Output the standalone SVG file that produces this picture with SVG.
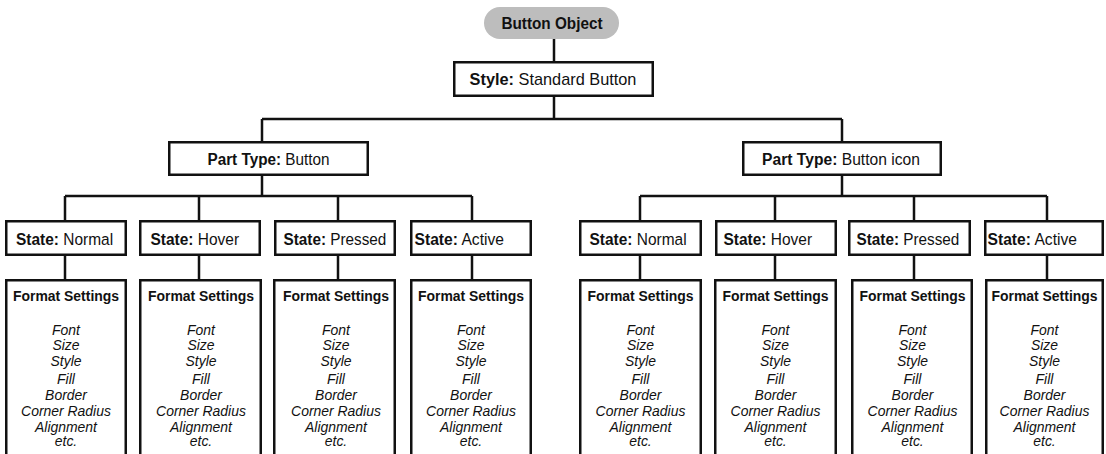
<svg xmlns="http://www.w3.org/2000/svg" width="1106" height="454" viewBox="0 0 1106 454">
<style>
  .box { fill: #ffffff; stroke: #111111; stroke-width: 2.5; }
  .pill { fill: #bdbdbd; stroke: none; }
  .conn { fill: none; stroke: #111111; stroke-width: 2.5; stroke-linecap: butt; stroke-linejoin: miter; }
  text { font-family: "Liberation Sans", Arial, sans-serif; fill: #111111; }
  .lbl { font-size: 17px; }
  .b { font-weight: bold; }
  .mid { text-anchor: middle; }
  .fs { font-size: 15.5px; font-weight: bold; text-anchor: middle; }
  .it { font-size: 15.5px; font-style: italic; text-anchor: middle; }
</style>
<defs>
  <g id="fmt">
    <text class="fs" x="0" y="301">Format Settings</text>
    <text class="it" x="0" y="335">Font</text>
    <text class="it" x="0" y="350.5">Size</text>
    <text class="it" x="0" y="366">Style</text>
    <text class="it" x="0" y="384">Fill</text>
    <text class="it" x="0" y="400">Border</text>
    <text class="it" x="0" y="416">Corner Radius</text>
    <text class="it" x="0" y="432">Alignment</text>
    <text class="it" x="0" y="446">etc.</text>
  </g>
</defs>
<rect x="0" y="0" width="1106" height="454" fill="#ffffff"/>
<g id="connectors">
  <path class="conn" d="M554 39 V61 M554 97 V119 M262 119 H842 M262 119 V141 M842 119 V141"/>
  <path class="conn" d="M262 176 V196 M65 196 H472 M65 196 V220 M199 196 V220 M338 196 V220 M472 196 V220"/>
  <path class="conn" d="M842 176 V196 M640 196 H1047 M640 196 V220 M775 196 V220 M914 196 V220 M1047 196 V220"/>
  <path class="conn" d="M65 256 V279 M199 256 V279 M338 256 V279 M472 256 V279 M640 256 V279 M775 256 V279 M914 256 V279 M1047 256 V279"/>
</g>
<g id="button-object">
  <rect class="pill" x="484" y="7" width="135" height="32" rx="16" ry="16"/>
  <text class="lbl b mid" transform="translate(552 28.5) scale(0.9 1)">Button Object</text>
</g>
<g id="style-standard-button">
  <rect class="box" x="454.25" y="62.25" width="198.5" height="33.5"/>
  <text class="lbl mid" transform="translate(553 84.5) scale(0.96 1)"><tspan class="b">Style:</tspan> Standard Button</text>
</g>
<g id="part-type-button">
  <rect class="box" x="169.25" y="142.25" width="198.5" height="32.5"/>
  <text class="lbl mid" transform="translate(268.5 164.5) scale(0.9 1)"><tspan class="b">Part Type:</tspan> Button</text>
</g>
<g id="part-type-button-icon">
  <rect class="box" x="743.25" y="142.25" width="197.5" height="32.5"/>
  <text class="lbl mid" transform="translate(841 164.5) scale(0.92 1)"><tspan class="b">Part Type:</tspan> Button icon</text>
</g>
<g id="state-normal-1">
  <rect class="box" x="6.25" y="221.25" width="119.5" height="33.5"/>
  <text class="lbl" transform="translate(16 244.5) scale(0.91 1)"><tspan class="b">State:</tspan> Normal</text>
</g>
<g id="state-hover-1">
  <rect class="box" x="140.25" y="221.25" width="119.5" height="33.5"/>
  <text class="lbl" transform="translate(150.5 244.5) scale(0.91 1)"><tspan class="b">State:</tspan> Hover</text>
</g>
<g id="state-pressed-1">
  <rect class="box" x="275.25" y="221.25" width="119.5" height="33.5"/>
  <text class="lbl" transform="translate(283.5 244.5) scale(0.9 1)"><tspan class="b">State:</tspan> Pressed</text>
</g>
<g id="state-active-1">
  <rect class="box" x="411.25" y="221.25" width="119.5" height="33.5"/>
  <text class="lbl" transform="translate(414.5 244.5) scale(0.92 1)"><tspan class="b">State:</tspan> Active</text>
</g>
<g id="state-normal-2">
  <rect class="box" x="580.25" y="221.25" width="120.5" height="33.5"/>
  <text class="lbl" transform="translate(589.5 244.5) scale(0.91 1)"><tspan class="b">State:</tspan> Normal</text>
</g>
<g id="state-hover-2">
  <rect class="box" x="716.25" y="221.25" width="119.5" height="33.5"/>
  <text class="lbl" transform="translate(723.5 244.5) scale(0.91 1)"><tspan class="b">State:</tspan> Hover</text>
</g>
<g id="state-pressed-2">
  <rect class="box" x="849.25" y="221.25" width="120.5" height="33.5"/>
  <text class="lbl" transform="translate(856.5 244.5) scale(0.9 1)"><tspan class="b">State:</tspan> Pressed</text>
</g>
<g id="state-active-2">
  <rect class="box" x="985.25" y="221.25" width="117.5" height="33.5"/>
  <text class="lbl" transform="translate(987.5 244.5) scale(0.92 1)"><tspan class="b">State:</tspan> Active</text>
</g>
<g id="format-1">
  <rect class="box" x="6.25" y="280.25" width="119.5" height="190"/>
  <use href="#fmt" transform="translate(66 0) scale(0.9 1)"/>
</g>
<g id="format-2">
  <rect class="box" x="140.25" y="280.25" width="120.5" height="190"/>
  <use href="#fmt" transform="translate(201 0) scale(0.9 1)"/>
</g>
<g id="format-3">
  <rect class="box" x="274.25" y="280.25" width="120.5" height="190"/>
  <use href="#fmt" transform="translate(336 0) scale(0.9 1)"/>
</g>
<g id="format-4">
  <rect class="box" x="411.25" y="280.25" width="119.5" height="190"/>
  <use href="#fmt" transform="translate(471 0) scale(0.9 1)"/>
</g>
<g id="format-5">
  <rect class="box" x="580.25" y="280.25" width="120.5" height="190"/>
  <use href="#fmt" transform="translate(640.5 0) scale(0.9 1)"/>
</g>
<g id="format-6">
  <rect class="box" x="715.25" y="280.25" width="120.5" height="190"/>
  <use href="#fmt" transform="translate(775.5 0) scale(0.9 1)"/>
</g>
<g id="format-7">
  <rect class="box" x="852.25" y="280.25" width="119.5" height="190"/>
  <use href="#fmt" transform="translate(912.5 0) scale(0.9 1)"/>
</g>
<g id="format-8">
  <rect class="box" x="986.25" y="280.25" width="116.5" height="190"/>
  <use href="#fmt" transform="translate(1044.5 0) scale(0.9 1)"/>
</g>
</svg>
